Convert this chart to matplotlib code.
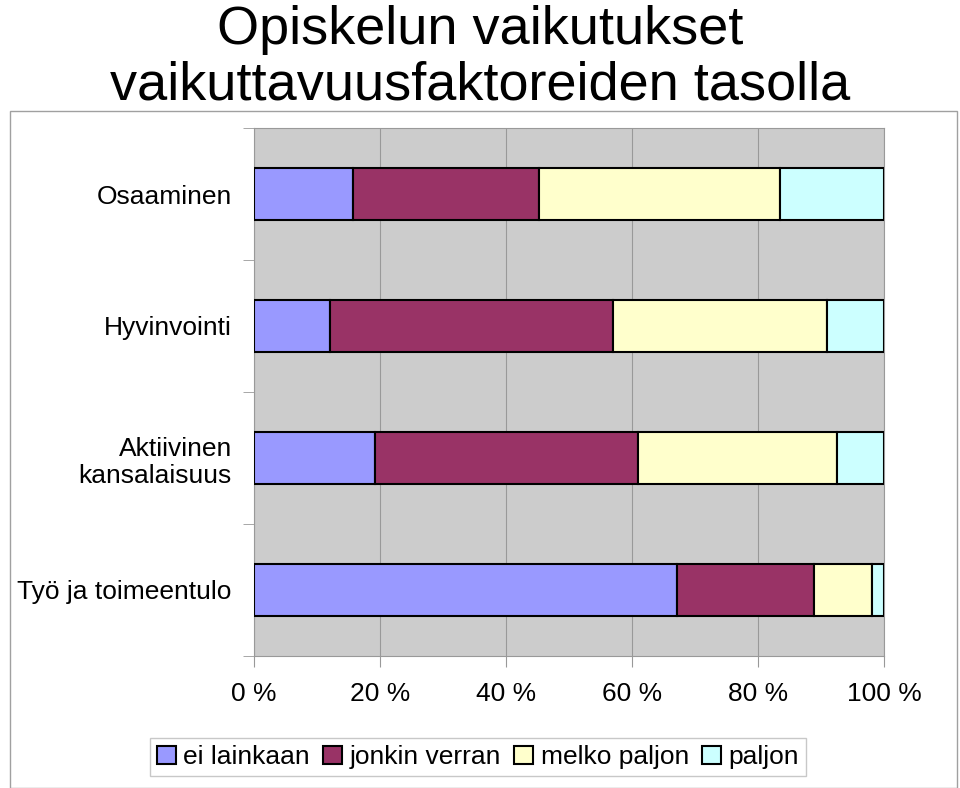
import matplotlib.pyplot as plt
from matplotlib.patches import Rectangle
import numpy as np

plt.rcParams['font.family'] = ['Liberation Sans', 'DejaVu Sans']

categories = ['Työ ja toimeentulo', 'Aktiivinen\nkansalaisuus', 'Hyvinvointi', 'Osaaminen']
series = ['ei lainkaan', 'jonkin verran', 'melko paljon', 'paljon']
ei_lainkaan = [67.1, 19.2, 12.1, 15.7]
jonkin_verran = [21.8, 41.8, 44.9, 29.5]
melko_paljon = [9.2, 31.5, 34.0, 38.3]
paljon = [1.9, 7.5, 9.0, 16.5]
colors = ['#9999ff', '#993366', '#ffffcc', '#ccffff']
xticks = [0, 20, 40, 60, 80, 100]

fig = plt.figure(figsize=(9.6, 7.88), dpi=100)
fig.patch.set_facecolor('white')

# outer chart frame
fig.patches.append(Rectangle((10 / 960, 0.0), 947 / 960, 1 - 111 / 788,
                             transform=fig.transFigure, fill=False,
                             edgecolor='#a0a0a0', linewidth=1))

ax = fig.add_axes([254 / 960, 1 - 656 / 788, 630 / 960, 528 / 788])
ax.set_facecolor('#cccccc')

y = np.arange(len(categories))
left = np.zeros(len(categories))
for name, vals, c in zip(series, [ei_lainkaan, jonkin_verran, melko_paljon, paljon], colors):
    ax.barh(y, vals, left=left, height=0.4, color=c, edgecolor='black',
            linewidth=1.5, label=name, zorder=3)
    left += np.array(vals)

ax.set_xlim(0, 100)
ax.set_ylim(-0.5, len(categories) - 0.5)
ax.set_xticks(xticks)
ax.set_xticklabels([f'{v} %' for v in xticks], fontsize=19)
ax.xaxis.grid(True, color='#999999', linewidth=0.8, zorder=0)
ax.tick_params(axis='x', length=8, color='#999999', pad=11)

ax.set_yticks(y)
ax.set_yticklabels(categories, fontsize=19, ha='right')
ax.tick_params(axis='y', which='major', length=0, pad=16)
ax.set_yticks(np.arange(-0.5, len(categories), 1), minor=True)
ax.tick_params(axis='y', which='minor', length=8, color='#999999')

for s in ['left', 'bottom', 'top', 'right']:
    ax.spines[s].set_color('#999999')

fig.text(0.5, 1 - 30 / 788, 'Opiskelun vaikutukset', ha='center', va='center', fontsize=39)
fig.text(0.5, 1 - 86 / 788, 'vaikuttavuusfaktoreiden tasolla', ha='center', va='center', fontsize=39)

leg = fig.legend(loc='center', bbox_to_anchor=(478 / 960, 1 - 757 / 788), ncol=4,
                 fontsize=19, frameon=True, fancybox=False, edgecolor='#bbbbbb',
                 handlelength=0.7, handleheight=0.7, handletextpad=0.3,
                 columnspacing=0.5, borderpad=0.25)

fig.savefig('out.png', dpi=100)
